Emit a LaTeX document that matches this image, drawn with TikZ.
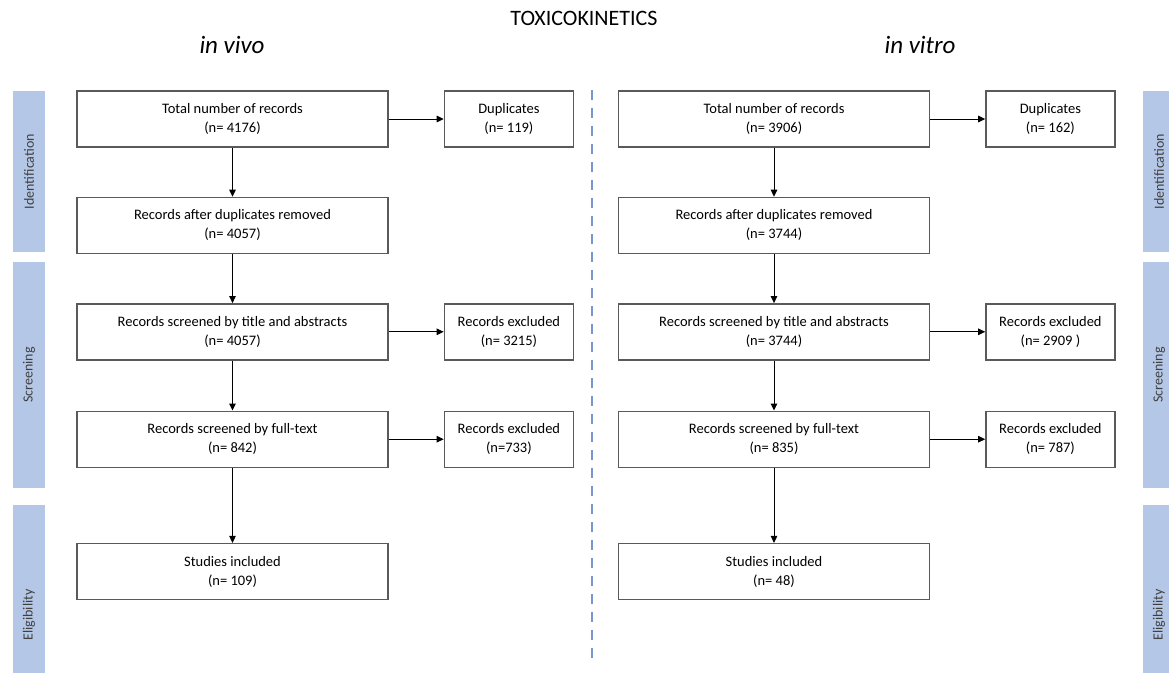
\documentclass[tikz,border=0pt]{standalone}
\usepackage{fontspec}
\setmainfont{Carlito}
\usetikzlibrary{arrows.meta, positioning}
\definecolor{phaseblue}{RGB}{180,199,231}
\definecolor{divblue}{RGB}{120,150,205}
\definecolor{boxgray}{RGB}{90,90,90}

\begin{document}
\begin{tikzpicture}[x=1pt, y=-1pt,
    node distance=49pt and 55pt,
box/.style = {draw=boxgray, line width=1.4pt, minimum width=311pt, minimum height=56pt,
              inner sep=0pt, align=center, font=\fontsize{14.5}{19}\selectfont},
side/.style = {box, minimum width=129pt},
phase/.style = {fill=phaseblue, rotate=90, minimum height=32pt, inner sep=0pt,
                text=black!75, font=\fontsize{14}{16}\selectfont},
arr/.style = {line width=1pt, -{Triangle[length=7pt, width=6.5pt]}}
                        ]
\useasboundingbox (0,0) rectangle (1169,672);
% headings
\node (ttl)   at (584,18) [font=\fontsize{22}{26}\selectfont] {TOXICOKINETICS};
\node (vivo)  at (232,45) [font=\fontsize{25}{28}\selectfont\itshape] {in vivo};
\node (vitro) at (920,45) [font=\fontsize{25}{28}\selectfont\itshape] {in vitro};
% phase bars
\node (idL) at (29,171.5)   [phase, minimum width=161pt] {Identification};
\node (scL) at (29,375)     [phase, minimum width=226pt] {Screening};
\node (elL) at (29,615)     [phase, minimum width=220pt] {Eligibility};
\node (idR) at (1159,171.5) [phase, minimum width=161pt] {Identification};
\node (scR) at (1159,375)   [phase, minimum width=226pt] {Screening};
\node (elR) at (1159,615)   [phase, minimum width=220pt] {Eligibility};
% in vivo
\node (a1) at (232.5,119) [box]    {Total number of records\\(n= 4176)};
\node (a2) [box, below=of a1]      {Records after duplicates removed\\(n= 4057)};
\node (a3) [box, below=of a2]      {Records screened by title and abstracts\\(n= 4057)};
\node (a4) [box, below=50pt of a3] {Records screened by full-text\\(n= 842)};
\node (a5) [box, below=75pt of a4] {Studies included\\(n= 109)};
\node (ad) [side, right=of a1]     {Duplicates\\(n= 119)};
\node (ae1) [side, right=of a3]    {Records excluded\\(n= 3215)};
\node (ae2) [side, right=of a4]    {Records excluded\\(n=733)};
%
\draw[arr] (a1) -- (a2);
\draw[arr] (a2) -- (a3);
\draw[arr] (a3) -- (a4);
\draw[arr] (a4) -- (a5);
\draw[arr] (a1) -- (ad);
\draw[arr] (a3) -- (ae1);
\draw[arr] (a4) -- (ae2);
% divider
\coordinate (dtop) at (592,90);
\coordinate (dbot) at (592,662);
\draw[divblue, line width=2pt, dash pattern=on 10pt off 8pt] (dtop) -- (dbot);
% in vitro
\node (b1) at (774,119) [box]      {Total number of records\\(n= 3906)};
\node (b2) [box, below=of b1]      {Records after duplicates removed\\(n= 3744)};
\node (b3) [box, below=of b2]      {Records screened by title and abstracts\\(n= 3744)};
\node (b4) [box, below=50pt of b3] {Records screened by full-text\\(n= 835)};
\node (b5) [box, below=75pt of b4] {Studies included\\(n= 48)};
\node (bd) [side, right=of b1]     {Duplicates\\(n= 162)};
\node (be1) [side, right=of b3]    {Records excluded\\(n= 2909 )};
\node (be2) [side, right=of b4]    {Records excluded\\(n= 787)};
%
\draw[arr] (b1) -- (b2);
\draw[arr] (b2) -- (b3);
\draw[arr] (b3) -- (b4);
\draw[arr] (b4) -- (b5);
\draw[arr] (b1) -- (bd);
\draw[arr] (b3) -- (be1);
\draw[arr] (b4) -- (be2);
\end{tikzpicture}
\end{document}
